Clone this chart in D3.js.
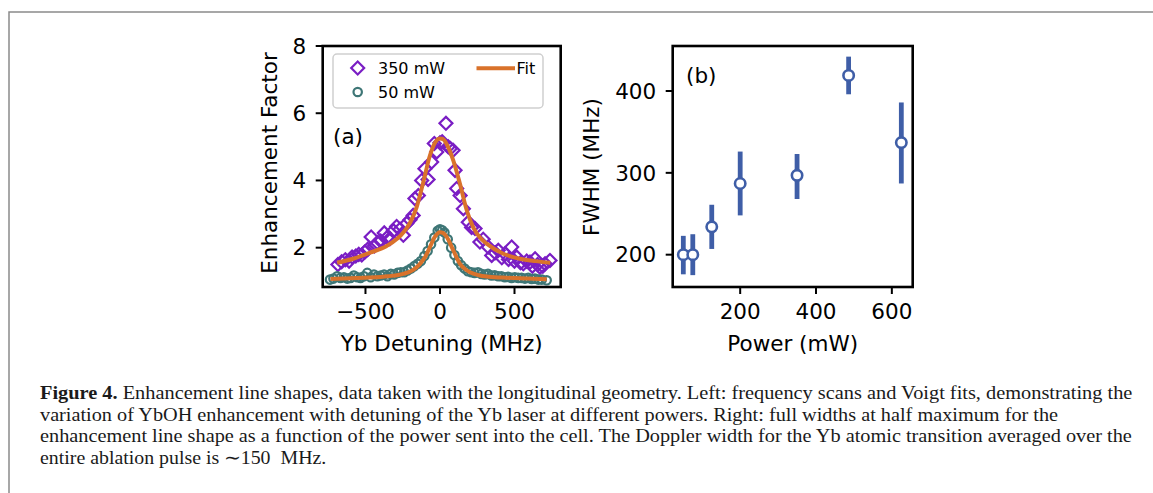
<!DOCTYPE html>
<html lang="en">
<head>
  <meta charset="UTF-8" />
  <title>Figure 4 - Enhancement line shapes</title>
  <script src="https://d3js.org/d3.v7.min.js"></script>
  <style>
    body {
      margin: 0;
      padding: 0;
      background: #fff;
    }
    svg {
      display: block;
      font-family: "DejaVu Sans", sans-serif;
    }
    .tick-label {
      font-size: 21.5px;
      fill: #000;
    }
    .axis-label {
      font-size: 21.5px;
      fill: #000;
    }
    .legend-text {
      font-size: 16px;
      fill: #000;
    }
    .caption {
      font-family: "Liberation Serif", "Times New Roman", serif;
      font-size: 18.5px;
      fill: #1a1a1a;
    }
  </style>
</head>
<body>
  <svg width="1153" height="493"></svg>

  <script>
    // ---- panel (a) : detuning scans ----
    const detuning350 = [-685, -660, -635, -610, -590, -565, -545, -525, -505, -485, -462, -440, -420, -398, -374, -355, -336, -312, -291, -268, -246, -223, -201, -180, -168, -145, -123, -101, -80, -56, -38, -22, 0, 15, 40, 55, 70, 88, 101, 112, 135, 157, 190, 212, 235, 268, 290, 324, 347, 370, 391, 415, 436, 460, 481, 500, 515, 540, 559, 582, 604, 620, 638, 655, 671, 690, 705, 738];
    const enh350 = [1.50, 1.58, 1.64, 1.60, 1.72, 1.75, 1.80, 1.78, 1.87, 1.95, 2.32, 2.05, 2.15, 2.20, 2.44, 2.30, 2.27, 2.50, 2.63, 2.55, 2.37, 2.72, 2.83, 2.96, 3.46, 3.55, 4.00, 4.35, 4.03, 4.55, 5.10, 4.85, 5.12, 5.15, 5.70, 5.00, 4.95, 4.90, 4.30, 3.76, 3.55, 3.16, 2.76, 2.60, 2.57, 2.17, 2.25, 2.02, 1.77, 1.85, 1.92, 1.70, 1.82, 1.65, 2.02, 1.60, 1.72, 1.55, 1.52, 1.60, 1.57, 1.45, 1.67, 1.50, 1.42, 1.45, 1.52, 1.62];

    const detuning50 = [-738, -715, -690, -668, -645, -622, -600, -578, -555, -533, -510, -488, -465, -443, -420, -398, -375, -353, -330, -308, -285, -263, -240, -218, -195, -173, -150, -128, -105, -83, -60, -38, -15, 0, 15, 30, 52, 75, 97, 120, 142, 165, 187, 210, 232, 255, 277, 300, 322, 345, 367, 390, 412, 435, 457, 480, 502, 525, 547, 570, 592, 615, 637, 660, 683, 716];
    const enh50 = [1.05, 1.08, 1.15, 1.10, 1.12, 1.08, 1.10, 1.17, 1.12, 1.10, 1.15, 1.25, 1.12, 1.20, 1.15, 1.17, 1.20, 1.15, 1.22, 1.20, 1.25, 1.27, 1.27, 1.32, 1.38, 1.45, 1.52, 1.60, 1.75, 1.90, 2.10, 2.30, 2.50, 2.55, 2.52, 2.45, 2.25, 2.00, 1.78, 1.60, 1.48, 1.38, 1.30, 1.27, 1.25, 1.27, 1.22, 1.20, 1.22, 1.17, 1.18, 1.15, 1.15, 1.12, 1.13, 1.10, 1.12, 1.10, 1.10, 1.08, 1.10, 1.07, 1.08, 1.05, 1.05, 1.03];

    // Voigt fit curves
    const fitDet350 = [-690, -582, -470, -358, -246, -200, -157, -112, -67, -30, 0, 20, 45, 89, 134, 179, 224, 268, 313, 425, 537, 640, 740];
    const fitEnh350 = [1.55, 1.67, 1.85, 2.05, 2.45, 2.75, 3.20, 3.95, 4.75, 5.15, 5.25, 5.23, 5.08, 4.60, 3.90, 3.12, 2.60, 2.30, 2.12, 1.82, 1.67, 1.60, 1.55];
    const fitDet50 = [-735, -600, -470, -350, -246, -180, -134, -100, -67, -35, 0, 20, 45, 89, 134, 170, 201, 260, 313, 420, 537, 716];
    const fitEnh50 = [1.07, 1.09, 1.11, 1.15, 1.22, 1.34, 1.52, 1.72, 2.02, 2.32, 2.46, 2.44, 2.32, 1.92, 1.52, 1.36, 1.27, 1.18, 1.14, 1.11, 1.09, 1.06];

    const xTicksA = [-500, 0, 500];
    const yTicksA = [2, 4, 6, 8];

    // ---- panel (b) : FWHM vs power ----
    const power = [50, 75, 125, 200, 350, 486, 625];
    const fwhm = [200, 200, 234, 287, 297, 419, 337];
    const fwhmLow = [176, 175, 207, 248, 268, 396, 287];
    const fwhmHigh = [223, 225, 261, 326, 323, 442, 386];

    const xTicksB = [200, 400, 600];
    const yTicksB = [200, 300, 400];

    const captionLines = [
      "Enhancement line shapes, data taken with the longitudinal geometry. Left: frequency scans and Voigt fits, demonstrating the",
      "variation of YbOH enhancement with detuning of the Yb laser at different powers. Right: full widths at half maximum for the",
      "enhancement line shape as a function of the power sent into the cell. The Doppler width for the Yb atomic transition averaged over the",
      "entire ablation pulse is \u223C150\u2002MHz."
    ];
    // measured line widths in the figure
    const captionWidths = [1093, 1019, 1093, 287];

    const purple = "#7a1ec4";
    const teal = "#3e7676";
    const orange = "#d9722b";
    const blue = "#3f5ea7";

    const svg = d3.select("svg");

    // page frame
    svg.append("path")
      .attr("d", "M9,493 L9,12 L1153,12")
      .attr("fill", "none")
      .attr("stroke", "#8a8a8a")
      .attr("stroke-width", 1.5);

    const tickLen = 7;

    function drawFrame(g, x, y, xTicks, yTicks, xFmt) {
      const [x0, x1] = x.range();
      const [y0, y1] = y.range();

      g.selectAll(".xt").data(xTicks).enter().append("line")
        .attr("x1", d => x(d)).attr("x2", d => x(d))
        .attr("y1", y0).attr("y2", y0 + tickLen)
        .attr("stroke", "#000").attr("stroke-width", 2);
      g.selectAll(".xl").data(xTicks).enter().append("text")
        .attr("class", "tick-label")
        .attr("x", d => x(d))
        .attr("y", y0 + 32)
        .attr("text-anchor", "middle")
        .text(xFmt);

      g.selectAll(".yt").data(yTicks).enter().append("line")
        .attr("x1", x0 - tickLen).attr("x2", x0)
        .attr("y1", d => y(d)).attr("y2", d => y(d))
        .attr("stroke", "#000").attr("stroke-width", 2);
      g.selectAll(".yl").data(yTicks).enter().append("text")
        .attr("class", "tick-label")
        .attr("x", x0 - 16.5)
        .attr("y", d => y(d) + 7.8)
        .attr("text-anchor", "end")
        .text(d => d);

      g.append("rect")
        .attr("x", x0).attr("y", y1)
        .attr("width", x1 - x0).attr("height", y0 - y1)
        .attr("fill", "none")
        .attr("stroke", "#000")
        .attr("stroke-width", 2.6);
    }

    // ===== panel (a) =====
    const xA = d3.scaleLinear().domain([-787, 810]).range([322.7, 560.7]);
    const yA = d3.scaleLinear().domain([0.83, 8]).range([287, 46]);
    const gA = svg.append("g");

    gA.append("defs").append("clipPath").attr("id", "clipA")
      .append("rect")
      .attr("x", 322.7).attr("y", 46)
      .attr("width", 238).attr("height", 241);

    const plotA = gA.append("g").attr("clip-path", "url(#clipA)");

    const diamond = d3.symbol().type(d3.symbolSquare).size(84);

    plotA.selectAll(".d350")
      .data(detuning350.map((v, i) => [v, enh350[i]]))
      .enter().append("path")
      .attr("d", diamond)
      .attr("transform", d => `translate(${xA(d[0])},${yA(d[1])}) rotate(45)`)
      .attr("fill", "none")
      .attr("stroke", purple)
      .attr("stroke-width", 2.2);

    plotA.selectAll(".c50")
      .data(detuning50.map((v, i) => [v, enh50[i]]))
      .enter().append("circle")
      .attr("cx", d => xA(d[0]))
      .attr("cy", d => yA(d[1]))
      .attr("r", 4.2)
      .attr("fill", "none")
      .attr("stroke", teal)
      .attr("stroke-width", 2.2);

    const lineA = d3.line()
      .x(d => xA(d[0]))
      .y(d => yA(d[1]))
      .curve(d3.curveMonotoneX);

    plotA.append("path")
      .datum(fitDet350.map((v, i) => [v, fitEnh350[i]]))
      .attr("d", lineA)
      .attr("fill", "none")
      .attr("stroke", orange)
      .attr("stroke-width", 4);

    plotA.append("path")
      .datum(fitDet50.map((v, i) => [v, fitEnh50[i]]))
      .attr("d", lineA)
      .attr("fill", "none")
      .attr("stroke", orange)
      .attr("stroke-width", 4);

    drawFrame(gA, xA, yA, xTicksA, yTicksA, d => d < 0 ? "\u2212" + Math.abs(d) : d);

    gA.append("text")
      .attr("class", "axis-label")
      .attr("x", 333).attr("y", 144)
      .text("(a)");

    // legend
    const leg = gA.append("g");
    leg.append("rect")
      .attr("x", 333).attr("y", 54)
      .attr("width", 210).attr("height", 54)
      .attr("rx", 4)
      .attr("fill", "#fff")
      .attr("fill-opacity", 0.85)
      .attr("stroke", "#cfcfcf")
      .attr("stroke-width", 1.5);
    leg.append("path")
      .attr("d", diamond)
      .attr("transform", "translate(357.7,68) rotate(45)")
      .attr("fill", "none")
      .attr("stroke", purple)
      .attr("stroke-width", 2.2);
    leg.append("text").attr("class", "legend-text")
      .attr("x", 378).attr("y", 74).text("350 mW");
    leg.append("circle")
      .attr("cx", 357.7).attr("cy", 92).attr("r", 4.2)
      .attr("fill", "none")
      .attr("stroke", teal)
      .attr("stroke-width", 2.2);
    leg.append("text").attr("class", "legend-text")
      .attr("x", 378).attr("y", 98).text("50 mW");
    leg.append("line")
      .attr("x1", 476.5).attr("x2", 515)
      .attr("y1", 68.3).attr("y2", 68.3)
      .attr("stroke", orange)
      .attr("stroke-width", 4);
    leg.append("text").attr("class", "legend-text")
      .attr("x", 516.5).attr("y", 74).text("Fit");

    gA.append("text")
      .attr("class", "axis-label")
      .attr("text-anchor", "middle")
      .attr("x", 441.7).attr("y", 351)
      .text("Yb Detuning (MHz)");
    gA.append("text")
      .attr("class", "axis-label")
      .attr("text-anchor", "middle")
      .attr("transform", "translate(277,163) rotate(-90)")
      .text("Enhancement Factor");

    // ===== panel (b) =====
    const xB = d3.scaleLinear().domain([22, 655]).range([672.7, 912.7]);
    const yB = d3.scaleLinear().domain([160.5, 455]).range([287, 46]);
    const gB = svg.append("g");

    const pts = power.map((p, i) => ({ p, w: fwhm[i], lo: fwhmLow[i], hi: fwhmHigh[i] }));

    gB.selectAll(".err").data(pts).enter().append("line")
      .attr("x1", d => xB(d.p)).attr("x2", d => xB(d.p))
      .attr("y1", d => yB(d.lo)).attr("y2", d => yB(d.hi))
      .attr("stroke", blue)
      .attr("stroke-width", 4.8);

    gB.selectAll(".pt").data(pts).enter().append("circle")
      .attr("cx", d => xB(d.p))
      .attr("cy", d => yB(d.w))
      .attr("r", 5.2)
      .attr("fill", "#fff")
      .attr("stroke", blue)
      .attr("stroke-width", 2.6);

    drawFrame(gB, xB, yB, xTicksB, yTicksB, d => d);

    gB.append("text")
      .attr("class", "axis-label")
      .attr("x", 686).attr("y", 82.5)
      .text("(b)");

    gB.append("text")
      .attr("class", "axis-label")
      .attr("text-anchor", "middle")
      .attr("x", 792.7).attr("y", 351)
      .text("Power (mW)");
    gB.append("text")
      .attr("class", "axis-label")
      .attr("text-anchor", "middle")
      .attr("transform", "translate(599,167) rotate(-90)")
      .text("FWHM (MHz)");

    // ===== caption =====
    // journal font is condensed: squeeze each line horizontally to its measured width
    const cap = svg.append("g");
    captionLines.forEach((line, i) => {
      const t = cap.append("text")
        .attr("class", "caption")
        .attr("x", 0)
        .attr("y", 0);
      if (i === 0) {
        t.append("tspan").attr("font-weight", "bold").text("Figure 4.");
        t.append("tspan").text(" " + line);
      } else {
        t.text(line);
      }
      const s = captionWidths[i] / t.node().getComputedTextLength();
      t.attr("transform", `translate(40,${399 + i * 21.5}) scale(${s},1)`);
    });
  </script>
</body>
</html>
